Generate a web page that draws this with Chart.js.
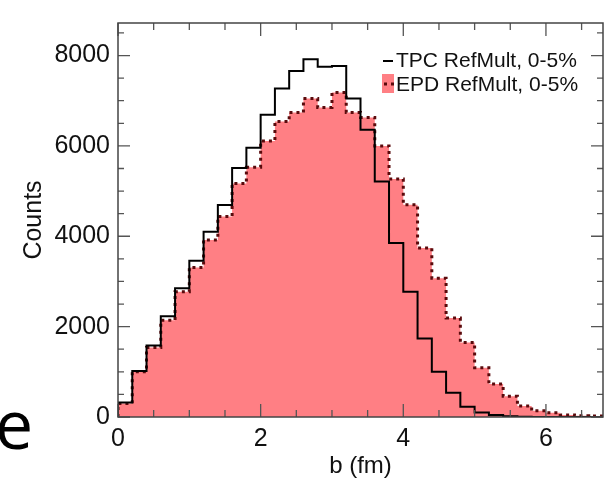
<!DOCTYPE html>
<html>
<head>
<meta charset="utf-8">
<script src="https://cdn.jsdelivr.net/npm/chart.js@4/dist/chart.umd.min.js"></script>
<style>
  html, body { margin: 0; padding: 0; background: #fff; }
  #wrap { position: relative; width: 605px; height: 486px; overflow: hidden; }
  #slideText { position: absolute; left: -5px; top: 389px; font-family: "Open Sans", sans-serif; font-size: 68px; line-height: 68px; color: #000; }
  canvas { position: absolute; left: 0; top: 0; }
</style>
</head>
<body>
<div id="wrap">
  <div id="slideText">e</div>
  <canvas id="bChart" width="605" height="486"></canvas>
</div>
<script>
(function () {
    // histogram bins, 0.2 fm wide, from 0 to 6.8 fm
    var binWidth = 0.2;
    var xMax = 6.8;
    var yMax = 8720;

    var tpcCounts = [320, 1020, 1580, 2230, 2850, 3460, 4100, 4690, 5510, 5960,
                     6690, 7270, 7660, 7920, 7750, 7770, 7050, 6360, 5210, 3850,
                     2770, 1740, 1000, 535, 225, 100, 45, 15, 5, 0,
                     0, 0, 0, 0];
    var epdCounts = [300, 1000, 1540, 2140, 2770, 3310, 3920, 4440, 5170, 5530,
                     6110, 6540, 6740, 7050, 6850, 7180, 6740, 6630, 6000, 5270,
                     4700, 3740, 3070, 2190, 1650, 1090, 730, 460, 245, 140,
                     95, 45, 30, 20];

    var xTickLabels = [0, 2, 4, 6];
    var yTickLabels = [0, 2000, 4000, 6000, 8000];

    var font = '"Liberation Sans", Arial, Helvetica, sans-serif';

    // step points: value of bin i starts at its left edge
    function toSteps(counts) {
        var pts = [{x: 0, y: 0}];
        counts.forEach(function (c, i) { pts.push({x: i * binWidth, y: c}); });
        pts.push({x: counts.length * binWidth, y: counts[counts.length - 1]});
        return pts;
    }

    var frameTicks = {
        id: 'frameTicks',
        afterDatasetsDraw: function (chart) {
            var ctx = chart.ctx, a = chart.chartArea;
            var x = chart.scales.x, y = chart.scales.y;
            ctx.save();
            ctx.strokeStyle = '#555';
            ctx.lineWidth = 1.3;
            ctx.beginPath();
            for (var v = 0; v <= xMax + 1e-6; v += 0.5) {
                var px = x.getPixelForValue(v);
                var len = (Math.round(v * 10) % 20 === 0) ? 13 : 7;
                ctx.moveTo(px, a.bottom); ctx.lineTo(px, a.bottom - len);
                ctx.moveTo(px, a.top); ctx.lineTo(px, a.top + len);
            }
            for (var w = 0; w <= yMax; w += 500) {
                var py = y.getPixelForValue(w);
                var l2 = (w % 2000 === 0) ? 12 : 6;
                ctx.moveTo(a.left, py); ctx.lineTo(a.left + l2, py);
                ctx.moveTo(a.right, py); ctx.lineTo(a.right - l2, py);
            }
            ctx.stroke();
            ctx.strokeStyle = '#444';
            ctx.lineWidth = 1.5;
            ctx.strokeRect(a.left, a.top, a.right - a.left, a.bottom - a.top);

            // legend inside the frame
            var ds = chart.data.datasets;
            ctx.font = '21px ' + font;
            ctx.textBaseline = 'alphabetic';
            ctx.fillStyle = '#111';
            var lx = a.left + 265, ly = a.top + 44;
            ctx.strokeStyle = '#000';
            ctx.lineWidth = 2;
            ctx.beginPath(); ctx.moveTo(lx, ly - 6); ctx.lineTo(lx + 10, ly - 6); ctx.stroke();
            ctx.fillText(ds[0].label, lx + 13, ly);
            ctx.fillStyle = ds[1].backgroundColor;
            ctx.fillRect(lx - 1, ly + 7, 12, 19);
            ctx.strokeStyle = ds[1].borderColor;
            ctx.lineWidth = 3;
            ctx.setLineDash([3, 4]);
            ctx.beginPath(); ctx.moveTo(lx + 1, ly + 17); ctx.lineTo(lx + 12, ly + 17); ctx.stroke();
            ctx.setLineDash([]);
            ctx.fillStyle = '#111';
            ctx.fillText(ds[1].label, lx + 13, ly + 24);
            ctx.restore();
        }
    };

    var data = {
        datasets: [
            {
                label: 'TPC RefMult, 0-5%',
                data: toSteps(tpcCounts),
                stepped: 'before',
                borderColor: '#000',
                borderWidth: 2,
                pointRadius: 0,
                fill: false
            },
            {
                label: 'EPD RefMult, 0-5%',
                data: toSteps(epdCounts),
                stepped: 'before',
                borderColor: '#5a0a0c',
                borderWidth: 3,
                borderDash: [3, 4],
                backgroundColor: '#ff7f84',
                pointRadius: 0,
                fill: 'origin'
            }
        ]
    };

    var plain = function (v) { return String(v); };

    var options = {
        responsive: false,
        animation: false,
        layout: { padding: { top: 12, right: 2, left: 0, bottom: 0 } },
        plugins: { legend: { display: false }, tooltip: { enabled: false } },
        scales: {
            x: {
                type: 'linear',
                min: 0,
                max: xMax,
                afterFit: function (s) { s.height = 69; },
                afterBuildTicks: function (s) { s.ticks = xTickLabels.map(function (v) { return {value: v}; }); },
                grid: { display: false, drawTicks: false },
                border: { display: false },
                ticks: { color: '#111', font: { family: font, size: 25 }, padding: 7, maxRotation: 0, callback: plain },
                title: { display: true, text: 'b (fm)', color: '#111', font: { family: font, size: 24 }, padding: { top: 0, bottom: 5 } }
            },
            y: {
                type: 'linear',
                min: 0,
                max: yMax,
                afterFit: function (s) { s.width = 118; },
                afterBuildTicks: function (s) { s.ticks = yTickLabels.map(function (v) { return {value: v}; }); },
                grid: { display: false, drawTicks: false },
                border: { display: false },
                ticks: { color: '#111', font: { family: font, size: 25 }, padding: 8, callback: plain },
                title: { display: true, text: 'Counts', color: '#111', font: { family: font, size: 25 }, padding: { top: 19, bottom: 0 } }
            }
        }
    };

    var ctx = document.getElementById('bChart').getContext('2d');
    var chart = new Chart(ctx, { type: 'line', data: data, options: options, plugins: [frameTicks] });
})();
</script>
</body>
</html>
